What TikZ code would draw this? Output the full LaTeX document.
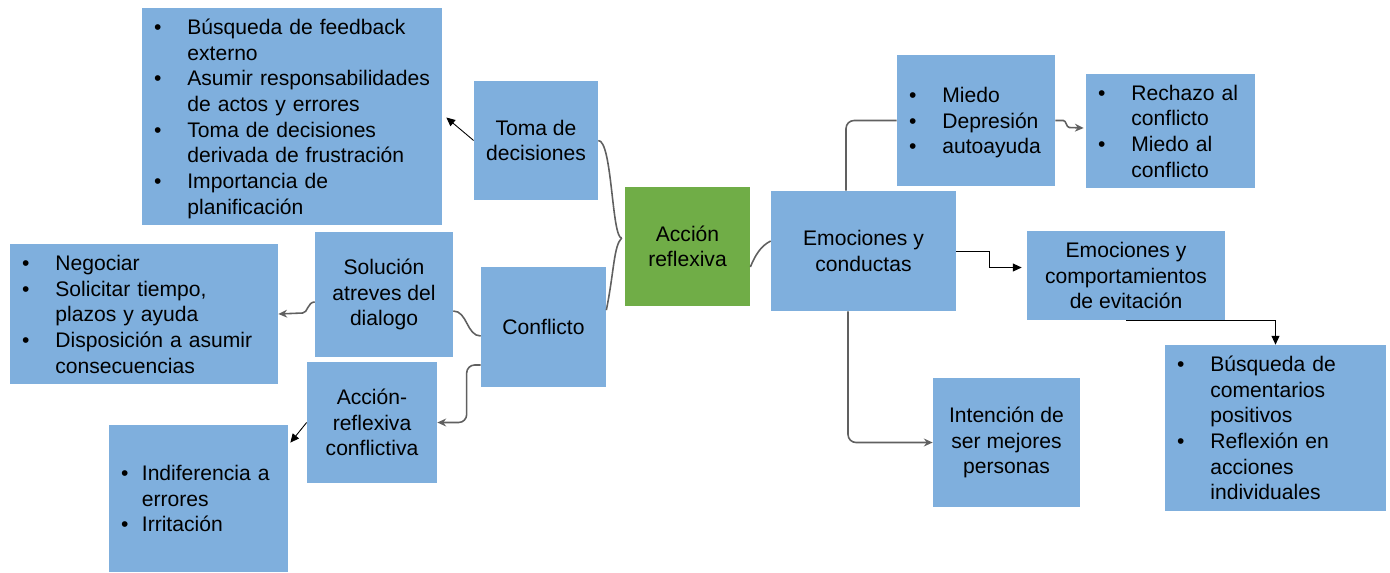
\documentclass[tikz,border=0pt]{standalone}
\usepackage{fontspec}
\setmainfont{Liberation Sans}
\usetikzlibrary{arrows.meta}
\definecolor{CB}{RGB}{127,175,221}
\definecolor{CG}{RGB}{112,173,71}
\definecolor{CL}{RGB}{96,96,96}
\newcommand{\blist}[2][0.52cm]{\raisebox{-1.5pt}[\height][\depth]{\begin{tabular}{@{}l@{\hspace{#1}}l@{}}#2\end{tabular}}}

\begin{document}
\begin{tikzpicture}[x=0.02cm,y=-0.02cm,
    font=\fontsize{12}{14.6}\selectfont,
    box/.style={fill=CB,inner sep=0pt,align=center},
    lbox/.style={fill=CB,inner xsep=0.24cm,inner ysep=0pt,align=left},
    conn/.style={draw=CL,line width=0.9pt},
    garrow/.style={conn,-{Stealth[length=5pt,width=4.5pt]}},
    barrow/.style={draw=black,line width=0.5pt,-{Triangle[length=5pt,width=4.5pt]}}]
    \useasboundingbox (0,0) rectangle (1390,572);

    \node[lbox,text width=5.52cm,minimum height=4.34cm] (tdlist) at (292,116.5) {\blist{\textbullet & Búsqueda de feedback\\ & externo\\ \textbullet & Asumir responsabilidades\\ & de actos y errores\\ \textbullet & Toma de decisiones\\ & derivada de frustración\\ \textbullet & Importancia de\\ & planificación}};
    \node[box,minimum width=2.48cm,minimum height=2.38cm] (toma) at (536,140.5) {Toma de\\decisiones};
    \node[box,fill=CG,minimum width=2.5cm,minimum height=2.38cm] (accion) at (687.5,246.5) {Acción\\reflexiva};
    \node[box,minimum width=2.76cm,minimum height=2.5cm] (solucion) at (384,294.5) {Solución\\atreves del\\dialogo};
    \node[box,minimum width=2.5cm,minimum height=2.4cm] (conflicto) at (543.5,327) {Conflicto};
    \node[lbox,text width=4.88cm,minimum height=2.8cm] (neglist) at (144,314) {\blist{\textbullet & Negociar\\ \textbullet & Solicitar tiempo,\\ & plazos y ayuda\\ \textbullet & Disposición a asumir\\ & consecuencias}};
    \node[box,minimum width=2.6cm,minimum height=2.42cm] (arconf) at (372,422.5) {Acción-\\reflexiva\\conflictiva};
    \node[lbox,text width=3.1cm,minimum height=2.94cm] (indlist) at (198.5,498.5) {\blist[0.27cm]{\textbullet & Indiferencia a\\ & errores\\ \textbullet & Irritación}};
    \node[box,minimum width=3.7cm,minimum height=2.4cm] (emoc) at (863.5,251) {Emociones y\\conductas};
    \node[lbox,text width=2.68cm,minimum height=2.62cm] (miedo) at (976,120.5) {\blist{\textbullet & Miedo\\ \textbullet & Depresión\\ \textbullet & autoayuda}};
    \node[lbox,text width=2.9cm,minimum height=2.28cm] (rechazo) at (1170.5,131) {\blist{\textbullet & Rechazo al\\ & conflicto\\ \textbullet & Miedo al\\ & conflicto}};
    \node[box,minimum width=3.96cm,minimum height=1.78cm] (evit) at (1126,275.5) {Emociones y\\comportamientos\\de evitación};
    \node[lbox,text width=3.94cm,minimum height=3.32cm] (busq) at (1275.5,428) {\blist{\textbullet & Búsqueda de\\ & comentarios\\ & positivos\\ \textbullet & Reflexión en\\ & acciones\\ & individuales}};
    \node[box,minimum width=2.94cm,minimum height=2.58cm] (intencion) at (1006.5,442.5) {Intención de\\ser mejores\\personas};

    \coordinate (acl) at ([xshift=-0.06cm,yshift=0.17cm]accion.west);
    \draw[conn] (toma.east) .. controls +(14,0) and +(-10,0) .. (acl);
    \draw[conn] (conflicto.15) .. controls +(8,-40) and +(-8,8) .. (acl);
    \draw[conn] ([yshift=-0.41cm]accion.east) .. controls +(5,-12) and +(-10,5) .. ([yshift=0.2cm]emoc.west);
    \draw[barrow] (toma.west) -- ([xshift=0.08cm,yshift=-0.02cm]tdlist.east);
    \draw[conn] ([yshift=-0.33cm]solucion.east) .. controls +(14,0) and +(-14,0) .. ([yshift=-0.18cm]conflicto.west);
    \draw[garrow] ([yshift=-0.15cm]solucion.west) .. controls +(-7,0) and +(5,0) .. ++(-12,11) -- (neglist.east);
    \draw[garrow,rounded corners=0.16cm] ([yshift=-0.76cm]conflicto.west) -- ++(-14,0) |- (arconf.east);
    \draw[barrow] (arconf.west) -- ([xshift=0.04cm,yshift=-0.36cm]indlist.north east);
    \draw[conn,rounded corners=0.16cm] ([xshift=-0.35cm]emoc.north) |- (miedo.west);
    \draw[garrow] (miedo.east) -- ++(8,0) .. controls +(3,0) and +(-3,0) .. ++(6,7) -- ([xshift=-0.04cm,yshift=0.06cm]rechazo.west);
    \draw[barrow] (emoc.east) -- ++(33,0) |- ([xshift=-0.1cm,yshift=0.16cm]evit.west);
    \draw[barrow] (evit.south) -| (busq.north);
    \draw[garrow,rounded corners=0.16cm] ([xshift=-0.31cm]emoc.south) |- (intencion.west);
\end{tikzpicture}
\end{document}
